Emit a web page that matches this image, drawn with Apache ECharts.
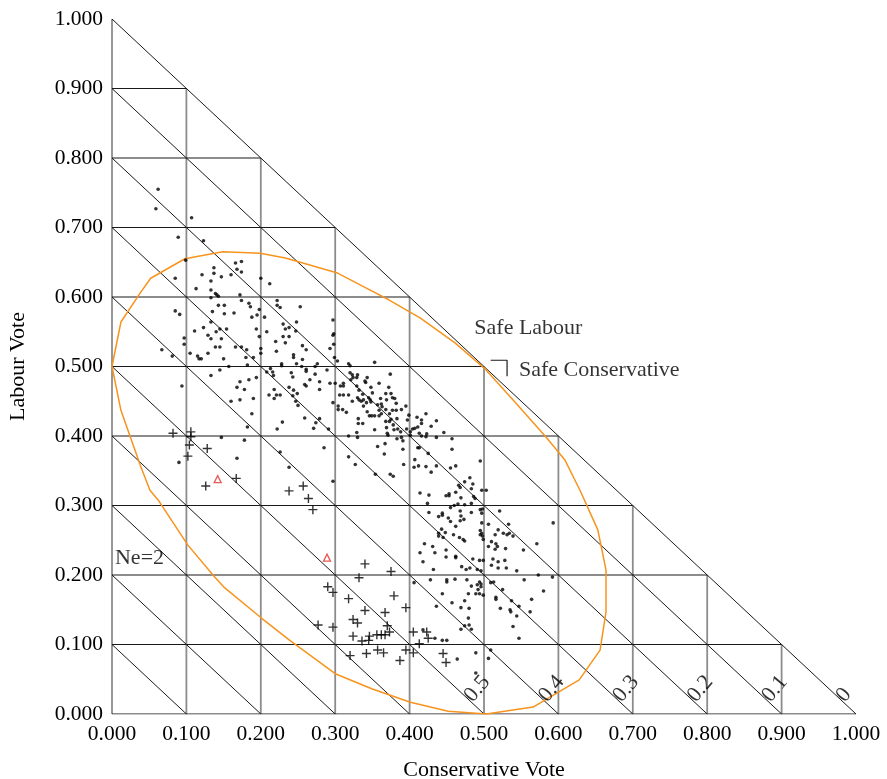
<!DOCTYPE html>
<html><head><meta charset="utf-8">
<script src="https://cdn.jsdelivr.net/npm/echarts@6/dist/echarts.min.js"></script>
<style>html,body{margin:0;padding:0;background:#fff}#c{width:887px;height:779px}</style>
</head><body><div id="c"></div>
<script>
// ---------- DATA ----------
const axisTicks = [0, 0.1, 0.2, 0.3, 0.4, 0.5, 0.6, 0.7, 0.8, 0.9, 1.0];
const liberalShares = [0.5, 0.4, 0.3, 0.2, 0.1, 0];
const xAxisTitle = 'Conservative Vote';
const yAxisTitle = 'Labour Vote';

// constituencies (dots): [Conservative, Labour]
const dots = [
[0.062,0.755],[0.059,0.727],[0.107,0.714],[0.089,0.686],[0.123,0.681],[0.099,0.653],[0.085,0.627],[0.113,0.612],[0.121,0.632],[0.133,0.623],[0.137,0.634],[0.137,0.642],[0.147,0.629],[0.160,0.632],[0.166,0.649],[0.174,0.651],[0.168,0.640],[0.174,0.636],[0.133,0.610],[0.139,0.605],[0.141,0.603],[0.143,0.601],[0.133,0.599],[0.172,0.603],[0.174,0.595],[0.200,0.627],[0.212,0.619],[0.143,0.588],[0.151,0.588],[0.135,0.579],[0.085,0.580],[0.091,0.575],[0.151,0.576],[0.164,0.577],[0.133,0.564],[0.123,0.556],[0.111,0.551],[0.140,0.550],[0.145,0.554],[0.154,0.554],[0.129,0.545],[0.133,0.540],[0.147,0.540],[0.097,0.541],[0.184,0.591],[0.186,0.586],[0.198,0.582],[0.188,0.571],[0.195,0.574],[0.205,0.571],[0.194,0.554],[0.198,0.543],[0.208,0.550],[0.222,0.595],[0.222,0.588],[0.226,0.585],[0.230,0.561],[0.230,0.543],
[0.253,0.586],[0.238,0.556],[0.233,0.554],[0.248,0.564],[0.247,0.551],[0.238,0.543],[0.297,0.567],[0.298,0.547],[0.297,0.545],
[0.097,0.532],[0.067,0.524],[0.081,0.515],[0.105,0.519],[0.115,0.515],[0.117,0.511],[0.120,0.511],[0.129,0.519],[0.139,0.528],[0.145,0.528],[0.150,0.511],[0.166,0.528],[0.174,0.528],[0.157,0.500],[0.145,0.495],[0.133,0.487],[0.094,0.472],[0.181,0.524],[0.180,0.513],[0.190,0.513],[0.182,0.502],[0.200,0.526],[0.200,0.519],[0.220,0.536],[0.221,0.522],[0.228,0.504],[0.213,0.497],[0.216,0.492],[0.208,0.492],[0.217,0.487],[0.194,0.484],[0.184,0.481],[0.172,0.478],[0.168,0.470],[0.178,0.467],[0.211,0.459],[0.218,0.467],[0.221,0.459],[0.226,0.459],[0.218,0.454],[0.172,0.452],[0.160,0.450],[0.190,0.454],[0.188,0.432],[0.229,0.420],[0.182,0.413],[0.222,0.410],[0.147,0.398],[0.178,0.394],[0.168,0.368],[0.090,0.362],[0.226,0.377],
[0.233,0.534],[0.256,0.530],[0.261,0.524],[0.244,0.517],[0.244,0.513],[0.256,0.510],[0.293,0.526],[0.298,0.532],[0.299,0.513],[0.303,0.508],[0.228,0.501],[0.248,0.504],[0.255,0.500],[0.261,0.496],[0.261,0.493],[0.273,0.500],[0.276,0.504],[0.289,0.495],[0.318,0.504],[0.320,0.501],[0.353,0.506],[0.241,0.491],[0.243,0.485],[0.273,0.489],[0.266,0.481],[0.259,0.474],[0.261,0.472],[0.279,0.478],[0.279,0.467],[0.293,0.476],[0.300,0.476],[0.311,0.476],[0.320,0.491],[0.323,0.488],[0.324,0.484],[0.330,0.488],[0.329,0.484],[0.321,0.481],[0.343,0.484],[0.340,0.479],[0.341,0.477],[0.374,0.489],[0.359,0.476],[0.238,0.470],[0.244,0.466],[0.249,0.461],[0.243,0.458],[0.247,0.450],[0.250,0.444],[0.307,0.472],[0.311,0.472],[0.329,0.472],[0.332,0.466],[0.348,0.470],[0.350,0.462],[0.368,0.461],[0.372,0.470],[0.375,0.461],[0.377,0.455],[0.369,0.452],[0.361,0.454],[0.337,0.460],[0.306,0.459],[0.311,0.459],[0.318,0.459],[0.323,0.450],[0.330,0.455],[0.332,0.452],[0.335,0.450],[0.338,0.452],[0.342,0.448],[0.345,0.455],[0.347,0.452],[0.348,0.449],[0.297,0.448],[0.304,0.443],[0.310,0.438],[0.304,0.438],[0.315,0.434],[0.338,0.443],[0.343,0.435],[0.357,0.445],[0.362,0.446],[0.363,0.442],[0.368,0.438],[0.359,0.437],[0.380,0.454],[0.382,0.447],[0.377,0.437],[0.382,0.437],[0.389,0.438],[0.395,0.443],[0.346,0.429],[0.349,0.429],[0.353,0.429],[0.359,0.429],[0.362,0.432],[0.373,0.432],[0.375,0.424],[0.373,0.421],[0.368,0.421],[0.383,0.425],[0.399,0.430],[0.410,0.427],[0.397,0.423],[0.416,0.423],[0.416,0.418],[0.331,0.425],[0.331,0.418],[0.337,0.418],[0.378,0.416],[0.369,0.412],[0.379,0.409],[0.384,0.410],[0.388,0.406],[0.396,0.410],[0.401,0.406],[0.404,0.410],[0.407,0.411],[0.411,0.413],[0.401,0.401],[0.370,0.404],[0.371,0.401],[0.353,0.409],[0.329,0.405],[0.330,0.398],[0.318,0.400],[0.279,0.425],[0.274,0.419],[0.259,0.426],[0.271,0.411],[0.291,0.410],[0.389,0.398],[0.383,0.396],[0.391,0.393],[0.413,0.404],[0.416,0.400],[0.357,0.385],[0.367,0.389],[0.366,0.374],[0.391,0.381],[0.411,0.383],[0.413,0.383],[0.407,0.366],[0.392,0.359],[0.406,0.355],[0.412,0.357],[0.285,0.383],[0.318,0.370],[0.327,0.359],[0.354,0.345],[0.374,0.345],[0.378,0.342],[0.297,0.335],[0.414,0.318],[0.238,0.355],
[0.422,0.432],[0.429,0.414],[0.436,0.422],[0.423,0.403],[0.422,0.399],[0.446,0.405],[0.436,0.398],[0.457,0.396],[0.457,0.381],[0.425,0.375],[0.436,0.357],[0.422,0.356],[0.429,0.348],[0.455,0.354],[0.462,0.357],[0.495,0.364],[0.481,0.340],[0.474,0.334],[0.466,0.329],[0.468,0.326],[0.485,0.331],[0.483,0.324],[0.462,0.319],[0.497,0.322],[0.503,0.322],[0.426,0.315],[0.449,0.314],[0.453,0.317],[0.453,0.314],[0.469,0.311],[0.486,0.313],[0.488,0.310],
[0.424,0.303],[0.455,0.297],[0.460,0.300],[0.465,0.302],[0.474,0.301],[0.483,0.303],[0.495,0.294],[0.497,0.289],[0.498,0.295],[0.483,0.290],[0.468,0.292],[0.469,0.285],[0.444,0.289],[0.444,0.286],[0.439,0.284],[0.426,0.290],[0.452,0.282],[0.455,0.277],[0.462,0.270],[0.468,0.278],[0.473,0.280],[0.497,0.275],[0.521,0.292],[0.506,0.273],[0.519,0.265],[0.533,0.273],[0.526,0.260],[0.531,0.258],[0.534,0.260],[0.539,0.256],[0.515,0.258],[0.495,0.264],[0.497,0.260],[0.495,0.258],[0.498,0.256],[0.499,0.251],[0.439,0.260],[0.439,0.256],[0.443,0.266],[0.448,0.261],[0.445,0.254],[0.459,0.258],[0.467,0.254],[0.472,0.251],[0.474,0.249],[0.593,0.275],[0.571,0.245],[0.553,0.236],[0.529,0.238],[0.516,0.245],[0.518,0.241],[0.515,0.237],[0.510,0.248],[0.506,0.241],[0.420,0.245],[0.431,0.241],[0.434,0.232],[0.449,0.236],[0.449,0.226],[0.462,0.227],[0.462,0.225],[0.414,0.232],[0.418,0.219],[0.485,0.223],[0.494,0.221],[0.499,0.221],[0.512,0.223],[0.519,0.219],[0.528,0.221],[0.510,0.214],[0.519,0.210],[0.530,0.210],[0.544,0.206],[0.573,0.200],[0.592,0.197],[0.470,0.212],[0.476,0.208],[0.481,0.210],[0.491,0.208],[0.496,0.206],[0.432,0.208],[0.428,0.193],[0.450,0.193],[0.450,0.190],[0.461,0.194],[0.477,0.193],[0.494,0.190],[0.496,0.187],[0.483,0.184],[0.491,0.186],[0.496,0.183],[0.492,0.179],[0.499,0.171],[0.494,0.173],[0.489,0.173],[0.479,0.173],[0.509,0.189],[0.513,0.190],[0.525,0.179],[0.516,0.168],[0.516,0.165],[0.554,0.193],[0.580,0.177],[0.564,0.165],[0.537,0.163],[0.547,0.155],[0.522,0.152],[0.535,0.150],[0.536,0.147],[0.562,0.147],[0.544,0.141],[0.539,0.126],[0.547,0.109],[0.444,0.173],[0.457,0.160],[0.474,0.163],[0.436,0.155],[0.469,0.153],[0.480,0.152],[0.479,0.138],[0.480,0.128],[0.474,0.127],[0.483,0.122],[0.469,0.122],[0.434,0.109],[0.444,0.106],[0.450,0.106],[0.509,0.092],[0.489,0.088],[0.506,0.080],[0.464,0.079],[0.418,0.121],[0.489,0.059],[0.406,0.189]
];

// second group (plus markers)
const pluses = [
[0.082,0.404],[0.106,0.406],[0.106,0.399],[0.104,0.387],[0.128,0.382],[0.102,0.371],[0.167,0.339],[0.126,0.328],[0.238,0.321],[0.257,0.328],[0.264,0.310],[0.270,0.294],[0.340,0.216],[0.375,0.205],[0.332,0.196],[0.290,0.183],[0.297,0.175],[0.318,0.166],[0.379,0.170],[0.395,0.153],[0.340,0.149],[0.367,0.146],[0.324,0.136],[0.330,0.131],[0.277,0.128],[0.297,0.125],[0.370,0.127],[0.373,0.118],[0.324,0.112],[0.346,0.112],[0.356,0.114],[0.362,0.114],[0.367,0.114],[0.336,0.105],[0.345,0.106],[0.405,0.118],[0.413,0.101],[0.320,0.084],[0.342,0.087],[0.357,0.092],[0.365,0.088],[0.395,0.092],[0.405,0.088],[0.387,0.077],[0.423,0.118],[0.425,0.109],[0.445,0.087],[0.449,0.074]
];

// red triangles
const triangles = [[0.142,0.338],[0.289,0.225]];

// Ne = 2 contour
const contour = [
[0,0.500],[0.012,0.564],[0.038,0.606],[0.052,0.627],[0.098,0.655],[0.149,0.665],[0.199,0.663],[0.233,0.656],[0.302,0.635],[0.347,0.610],[0.372,0.596],[0.414,0.570],[0.461,0.534],[0.501,0.497],[0.543,0.447],[0.583,0.399],[0.609,0.365],[0.629,0.322],[0.653,0.265],[0.664,0.207],[0.664,0.147],[0.656,0.092],[0.628,0.049],[0.566,0.010],[0.503,0.000],[0.452,0.004],[0.401,0.017],[0.350,0.036],[0.300,0.058],[0.239,0.106],[0.202,0.137],[0.150,0.183],[0.138,0.197],[0.102,0.243],[0.062,0.308],[0.051,0.322],[0.038,0.358],[0.012,0.437],[0,0.500]
];

// ---------- BUILD ----------
const FONT = '"Liberation Serif","DejaVu Serif",serif';
const TXT = '#000';
const lineSeries = [];
function seg(pts, color, width) {
  lineSeries.push({type:'line', data:pts, symbol:'none', silent:true, animation:false,
    lineStyle:{color:color, width:width}, z:1});
}
const inner = axisTicks.slice(1, -1);
// vertical lines (x = const, from y=0 to y=1-x), including axis x=0
[0].concat(inner).forEach(t => seg([[t,0],[t,+(1-t).toFixed(6)]], '#8c8c8c', 1.8));
// horizontal lines (y = const, from x=0 to x=1-y)
[0].concat(inner).forEach(t => seg([[0,t],[+(1-t).toFixed(6),t]], '#1a1a1a', 1.1));
// diagonal lines x + y = c
inner.concat([1]).forEach(c => seg([[0,c],[c,0]], '#1a1a1a', 1));
// bracket near Safe Conservative
seg([[0.509,0.509],[0.531,0.509],[0.531,0.486]], '#1a1a1a', 1.2);

const labelData = liberalShares.map(L => ({value:[1 - L - 0.021, 0.021], name: String(L)}));

const option = {
  animation:false,
  backgroundColor:'#fff',
  grid:{left:112, right:31, top:19, bottom:65, containLabel:false, outerBoundsMode:'none'},
  xAxis:{type:'value', min:0, max:1, interval:0.1,
    axisLine:{show:false}, axisTick:{show:false}, splitLine:{show:false},
    axisLabel:{formatter:v=>v.toFixed(3), fontFamily:FONT, fontSize:21.5, color:TXT, margin:9},
    name:xAxisTitle, nameLocation:'middle', nameGap:45,
    nameTextStyle:{fontFamily:FONT, fontSize:22, color:TXT}},
  yAxis:{type:'value', min:0, max:1, interval:0.1,
    axisLine:{show:false}, axisTick:{show:false}, splitLine:{show:false},
    axisLabel:{formatter:v=>v.toFixed(3), fontFamily:FONT, fontSize:21.5, color:TXT, margin:9},
    name:yAxisTitle, nameLocation:'middle', nameGap:83, nameRotate:90,
    nameTextStyle:{fontFamily:FONT, fontSize:22, color:TXT}},
  series: lineSeries.concat([
    {type:'line', data:contour, symbol:'none', silent:true, animation:false,
      lineStyle:{color:'#f7941d', width:1.5}, z:2},
    {type:'scatter', data:dots, symbol:'circle', symbolSize:3.6, silent:true,
      itemStyle:{color:'#000'}, z:3},
    {type:'scatter', data:pluses, symbol:'path://M0,5L10,5M5,0L5,10', symbolSize:9, silent:true,
      itemStyle:{color:'#000', borderColor:'#000', borderWidth:1.4}, z:3},
    {type:'scatter', data:triangles, symbol:'triangle', symbolSize:7, silent:true,
      itemStyle:{color:'rgba(0,0,0,0)', borderColor:'#e0302a', borderWidth:1.3}, z:3},
    {type:'scatter', data:labelData, symbolSize:0, silent:true, z:4,
      label:{show:true, position:'inside', align:'left', verticalAlign:'middle', rotate:50,
        formatter:p=>p.name, fontFamily:FONT, fontSize:22, color:TXT}},
    {type:'scatter', symbolSize:0, silent:true, z:4,
      data:[{value:[0.487,0.555], name:'Safe Labour'},{value:[0.547,0.494], name:'Safe Conservative'},{value:[0.004,0.224], name:'Ne=2'}],
      label:{show:true, position:'right', distance:0, formatter:p=>p.name, fontFamily:FONT, fontSize:22, color:TXT}}
  ])
};
const chart = echarts.init(document.getElementById('c'), null, {renderer:'canvas'});
chart.setOption(option);
</script></body></html>
